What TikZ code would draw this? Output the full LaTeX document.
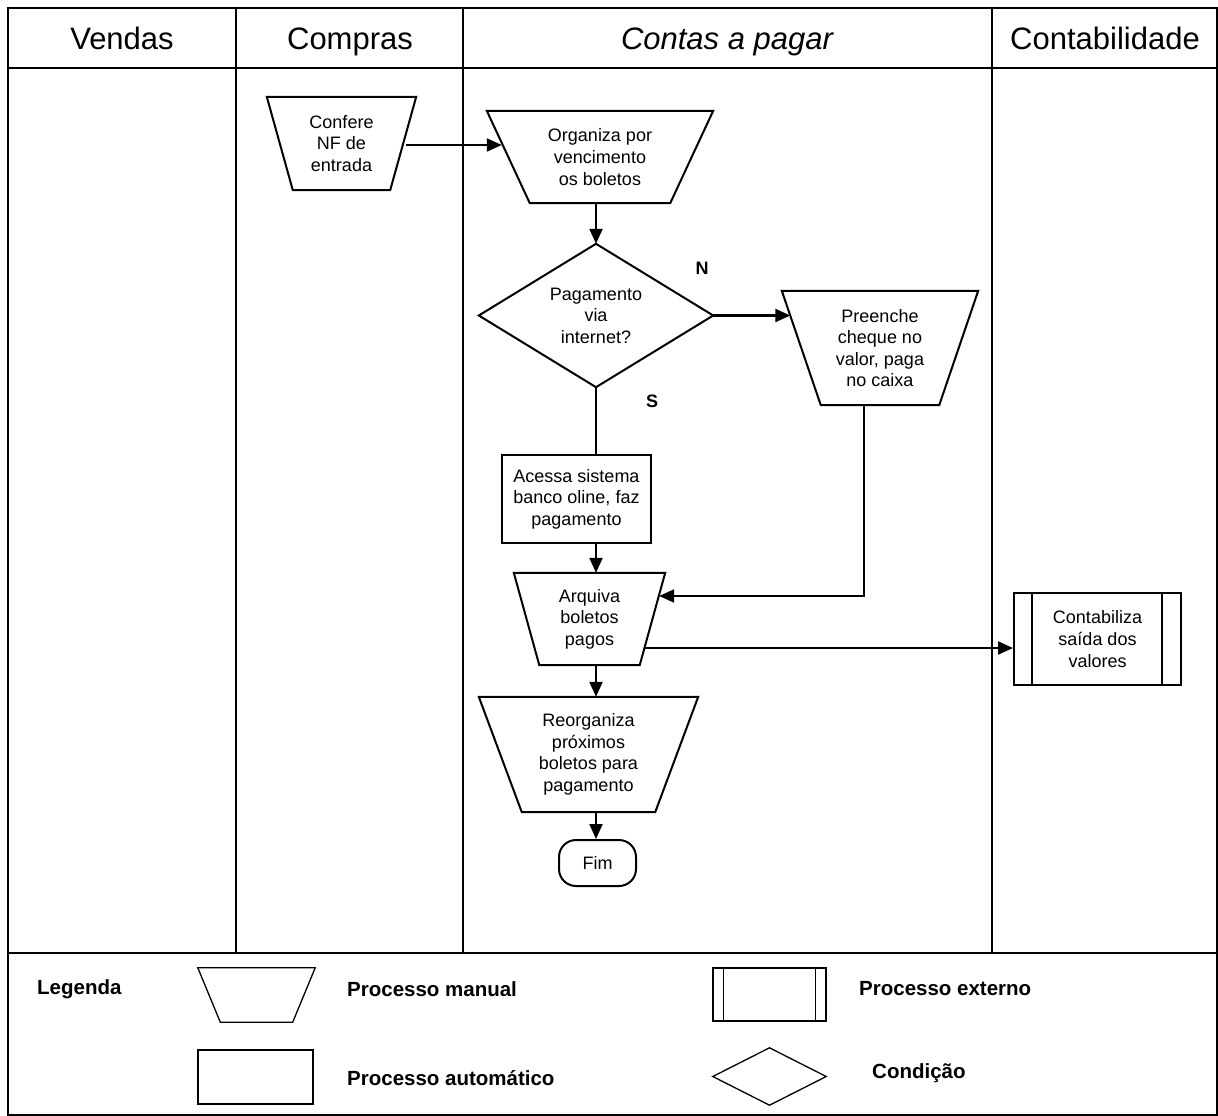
\documentclass[tikz,border=0pt]{standalone}
\usepackage{fontspec}
\setmainfont{Liberation Sans}
\usetikzlibrary{arrows.meta}
\newcommand\mtrap[3][lw]{\draw[#1] (#2.north west) -- (#2.north east) -- ([xshift=-#3]#2.south east) -- ([xshift=#3]#2.south west) -- cycle;}
\begin{document}
\begin{tikzpicture}[x=1pt,y=-1pt,
  lw/.style={line width=2pt},
  frame/.style={line width=2pt},
  box/.style={inner sep=0pt, align=center, font=\fontsize{18}{21.6}\selectfont},
  arr/.style={line width=2.2pt, -{Triangle[length=15pt,width=13pt]}},
  head/.style={anchor=base, inner sep=0pt, font=\fontsize{31}{36}\selectfont},
  lbl/.style={inner sep=0pt, font=\bfseries\fontsize{18}{21.6}\selectfont},
  leg/.style={anchor=west, inner sep=0pt, font=\bfseries\fontsize{20.5}{24}\selectfont},
  lshape/.style={line width=1.3pt},
  blank/.style={inner sep=0pt}
]
\useasboundingbox (0,0) rectangle (1218,1116);
% frame and lanes
\draw[frame] (8,8) rectangle (1216.5,1114.5);
\draw[frame] (8,68) -- (1216.5,68);
\draw[frame] (8,953) -- (1216.5,953);
\foreach \x in {236,463,992} \draw[frame] (\x,8) -- (\x,953);
% headers
\node[head] (hv) at (122,49) {Vendas};
\node[head] (hc) at (350,49) {Compras};
\node[head, font=\itshape\fontsize{31}{36}\selectfont] (hp) at (727,49) {Contas a pagar};
\node[head] (hk) at (1105,49) {Contabilidade};
% Confere
\node[box, minimum width=149pt, minimum height=93pt] (conf) at (341.5,143.5) {Confere\\NF de\\entrada};
\mtrap{conf}{26pt}
% Organiza
\node[box, minimum width=226pt, minimum height=92pt] (org) at (600,157) {Organiza por\\vencimento\\os boletos};
\mtrap{org}{43pt}
\draw[arr] ([xshift=-10pt,yshift=-1.5pt]conf.east) -- ([xshift=15pt,yshift=-1.5pt]conf.east -| org.west);
% Diamond
\node[box, minimum width=234pt, minimum height=143pt] (dia) at (596,315.5) {Pagamento\\via\\internet?};
\draw[lw] (dia.north) -- (dia.east) -- (dia.south) -- (dia.west) -- cycle;
\draw[arr] (dia.north |- org.south) -- (dia.north);
\node[lbl] (nlab) at (702,268) {N};
\node[lbl] (slab) at (652,401) {S};
% Preenche
\node[box, minimum width=196pt, minimum height=114pt] (pre) at (880,348) {Preenche\\cheque no\\valor, paga\\no caixa};
\mtrap{pre}{39pt}
\draw[arr] (dia.east) -- ([xshift=8.5pt]dia.east -| pre.west);
% Acessa
\node[box, draw, lw, minimum width=149pt, minimum height=88pt] (acc) at (576.5,499) {Acessa sistema\\banco oline, faz\\pagamento};
\draw[lw] (dia.south) -- (dia.south |- acc.north);
% Arquiva
\node[box, minimum width=151pt, minimum height=92pt] (arq) at (589.5,619) {Arquiva\\boletos\\pagos};
\mtrap{arq}{25.5pt}
\draw[arr] (dia.south |- acc.south) -- (dia.south |- arq.north);
\draw[arr] ([xshift=-16pt]pre.south) |- ([xshift=-6pt,yshift=23pt]arq.east);
% Contabiliza
\node[box, draw, lw, minimum width=167pt, minimum height=92pt] (cont) at (1097.5,639) {Contabiliza\\saída dos\\valores};
\draw[lw] ([xshift=19pt]cont.north west) -- ([xshift=19pt]cont.south west);
\draw[lw] ([xshift=-20pt]cont.north east) -- ([xshift=-20pt]cont.south east);
\draw[arr] ([xshift=-21pt,yshift=-29pt]arq.east) -- ([yshift=-9pt]cont.west);
% Reorganiza
\node[box, minimum width=219pt, minimum height=115pt] (reo) at (588.5,754.5) {Reorganiza\\próximos\\boletos para\\pagamento};
\mtrap{reo}{43pt}
\draw[arr] (dia.south |- arq.south) -- (dia.south |- reo.north);
% Fim
\node[box, draw, lw, rounded corners=17pt, minimum width=77pt, minimum height=46pt] (fim) at (597.5,863) {Fim};
\draw[arr] (dia.south |- reo.south) -- (dia.south |- fim.north);
% Legend
\node[leg] (lg) at (37,989) {Legenda};
\node[blank, minimum width=117pt, minimum height=54pt] (lman) at (256.5,995) {};
\mtrap[lshape]{lman}{22.5pt}
\node[leg] (tman) at (347,989) {Processo manual};
\node[blank, draw, lshape, minimum width=113pt, minimum height=53pt] (lext) at (769.5,994.5) {};
\draw[lshape] ([xshift=11pt]lext.north west) -- ([xshift=11pt]lext.south west);
\draw[lshape] ([xshift=-11pt]lext.north east) -- ([xshift=-11pt]lext.south east);
\node[leg] (text) at (859,989) {Processo externo};
\node[blank, draw, lshape, minimum width=115pt, minimum height=54pt] (laut) at (255.5,1077) {};
\node[leg] (taut) at (347,1078) {Processo automático};
\node[blank, minimum width=113pt, minimum height=57pt] (ldia) at (769.5,1076.5) {};
\draw[lshape] (ldia.north) -- (ldia.east) -- (ldia.south) -- (ldia.west) -- cycle;
\node[leg] (tcond) at (872,1073) {Condição};
\end{tikzpicture}
\end{document}
